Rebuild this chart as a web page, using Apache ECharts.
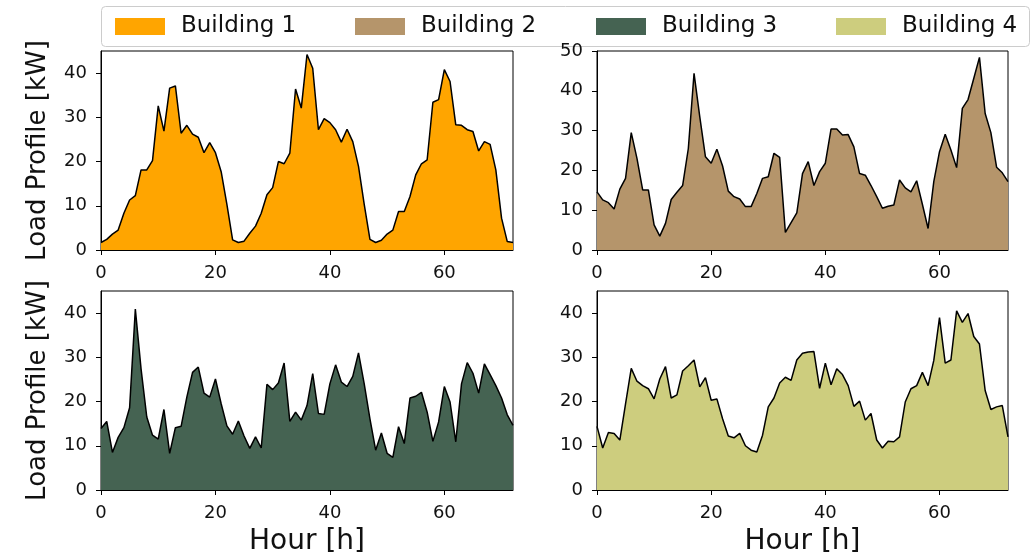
<!DOCTYPE html>
<html>
<head>
<meta charset="utf-8">
<script src="https://cdn.jsdelivr.net/npm/echarts@6/dist/echarts.min.js"></script>
<style>
html,body{margin:0;padding:0;background:#fff;}
#chart{width:1032px;height:557px;}
</style>
</head>
<body>
<div id="chart"></div>
<script>
// Hours 0..72
const HOURS = [0,1,2,3,4,5,6,7,8,9,10,11,12,13,14,15,16,17,18,19,20,21,22,23,24,25,26,27,28,29,30,31,32,33,34,35,36,37,38,39,40,41,42,43,44,45,46,47,48,49,50,51,52,53,54,55,56,57,58,59,60,61,62,63,64,65,66,67,68,69,70,71,72];
const NAMES = ['Building 1','Building 2','Building 3','Building 4'];
const COLORS = ['#FFA500','#B5956B','#456352','#CDCD7E'];
const X_TICKS = [0,20,40,60];
const Y_TICKS_A = [0,10,20,30,40];
const Y_TICKS_B = [0,10,20,30,40,50];

const B1 = [1.7,2.4,3.6,4.5,8.3,11.3,12.3,18.1,18.1,20.2,
  32.6,26.9,36.6,37.1,26.4,28.2,26.2,25.5,22.0,24.3,
  22.0,17.7,10.3,2.3,1.7,2.0,3.8,5.4,8.3,12.5,
  14.1,20.0,19.5,21.9,36.4,32.1,44.2,41.1,27.2,29.7,
  28.8,27.2,24.4,27.3,24.5,18.9,10.3,2.4,1.7,2.2,
  3.6,4.5,8.7,8.7,12.1,17.0,19.5,20.4,33.4,34.0,
  40.8,38.1,28.3,28.2,27.2,26.8,22.4,24.5,23.9,18.1,
  7.2,1.9,1.7];
const B2 = [14.6,12.6,11.9,10.3,15.3,18.0,29.5,23.0,15.1,15.1,
  6.3,3.5,6.7,12.7,14.5,16.2,25.5,44.4,33.5,23.4,
  21.8,25.3,21.1,14.8,13.4,12.8,10.9,10.9,14.2,18.0,
  18.4,24.3,23.3,4.4,6.9,9.3,19.2,22.2,16.2,19.7,
  21.8,30.4,30.4,28.9,29.0,25.9,19.2,18.8,16.2,13.4,
  10.5,11.0,11.3,17.6,15.6,14.6,17.4,11.5,5.4,17.2,
  24.7,29.1,25.1,20.7,35.6,37.8,43.1,48.4,34.3,29.5,
  20.8,19.4,17.2];
const B3 = [13.9,15.5,8.5,11.9,14.1,18.6,40.9,27.4,16.5,12.4,
  11.5,18.2,8.3,14.1,14.4,21.0,26.6,27.8,21.9,21.0,
  25.1,19.5,14.5,12.6,15.6,12.2,9.4,12.0,9.5,23.9,
  22.7,24.2,28.7,15.5,17.6,15.8,19.1,26.3,17.3,17.1,
  24.0,28.3,24.4,23.4,25.7,31.0,24.0,16.1,9.0,12.9,
  8.3,7.4,14.3,10.5,20.8,21.2,22.1,17.6,11.0,15.4,
  23.4,19.9,10.9,24.0,28.8,26.4,21.9,28.5,26.1,23.6,
  20.8,17.0,14.6];
const B4 = [14.4,9.5,13.0,12.8,11.3,19.5,27.5,24.6,23.6,22.9,
  20.6,25.1,27.9,20.8,21.5,26.9,28.1,29.4,23.3,25.4,
  20.3,20.6,16.1,12.2,11.8,12.8,10.0,9.0,8.6,12.4,
  18.8,20.8,24.2,25.5,24.8,29.4,30.9,31.2,31.3,23.0,
  28.7,23.8,27.4,26.1,23.6,18.9,20.1,15.8,17.3,11.3,
  9.5,11.0,10.9,12.0,19.9,22.9,23.6,26.6,23.6,29.3,
  39.0,28.7,29.4,40.5,37.9,39.9,34.7,33.0,22.5,18.2,
  18.8,19.1,12.0];
const SERIES = [B1,B2,B3,B4];
const YMAX = [45,50,45,45];

const FONT = 'DejaVu Sans';
const grids = [
  {left:101, top:51, width:412, height:199},
  {left:597, top:51, width:411, height:199},
  {left:101, top:291, width:412, height:201},
  {left:597, top:291, width:411, height:201}
];

const xAxes = grids.map((g,i)=>({
  type:'value', gridIndex:i, min:0, max:72,
  axisLine:{show:true, onZero:false, lineStyle:{color:'#000', width:1}},
  axisTick:{show:true, length:5, lineStyle:{color:'#000'}, customValues:X_TICKS},
  axisLabel:{show:true, fontFamily:FONT, fontSize:18, color:'#111', margin:14, customValues:X_TICKS},
  splitLine:{show:false},
  name: i>=2 ? 'Hour [h]' : '',
  nameLocation:'middle', nameGap:38,
  nameTextStyle:{fontFamily:FONT, fontSize:28, color:'#111'}
}));
const yAxes = grids.map((g,i)=>({
  type:'value', gridIndex:i, min:0, max:YMAX[i],
  axisLine:{show:true, lineStyle:{color:'#000', width:1}},
  axisTick:{show:true, length:5, lineStyle:{color:'#000'}, customValues: YMAX[i]===50?Y_TICKS_B:Y_TICKS_A},
  axisLabel:{show:true, fontFamily:FONT, fontSize:18, color:'#111', margin:14, customValues: YMAX[i]===50?Y_TICKS_B:Y_TICKS_A},
  splitLine:{show:false},
  name: (i===0||i===2) ? 'Load Profile [kW]' : '',
  nameLocation:'middle', nameGap:50, nameRotate:90,
  nameTextStyle:{fontFamily:FONT, fontSize:26, color:'#111'}
}));

const series = SERIES.map((arr,i)=>({
  name:NAMES[i], type:'line', xAxisIndex:i, yAxisIndex:i,
  data: HOURS.map((h,k)=>[h, arr[k]]),
  symbol:'none', showSymbol:false, smooth:false,
  itemStyle:{color:COLORS[i]},
  lineStyle:{color:'#000', width:1.5},
  areaStyle:{color:COLORS[i], opacity:1, origin:'start'},
  silent:true, animation:false
}));

const legendLeft = [110, 350, 591, 831];
const legends = NAMES.map((n,i)=>({
  data:[{name:n, icon:'rect', itemStyle:{color:COLORS[i], borderWidth:0}}],
  left:legendLeft[i], top:10, itemWidth:50, itemHeight:17, itemGap:0,
  selectedMode:false, z:5,
  textStyle:{fontFamily:FONT, fontSize:23, color:'#111', padding:[0,0,0,11]}
}));

const chart = echarts.init(document.getElementById('chart'), null, {renderer:'canvas'});
chart.setOption({
  animation:false,
  backgroundColor:'#fff',
  grid: grids.map(g=>Object.assign({show:true, borderColor:'#000', borderWidth:1, backgroundColor:'transparent', containLabel:false}, g)),
  xAxis:xAxes, yAxis:yAxes, series:series,
  legend:legends,
  graphic:[{type:'rect', left:101, top:6, z:0, shape:{width:928, height:40, r:4},
    style:{fill:'#fff', stroke:'#cccccc', lineWidth:1}}]
});
</script>
</body>
</html>
